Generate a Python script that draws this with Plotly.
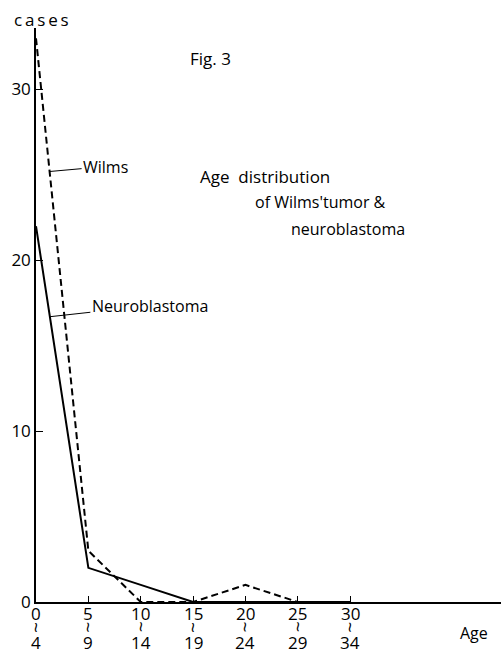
import plotly.graph_objects as go

# ---- data ----
age_start = [0, 5, 10, 15, 20, 25, 30]
age_end = [4, 9, 14, 19, 24, 29, 34]
wilms = [33, 3, 0, 0, 1, 0]
neuroblastoma = [22, 2, 1, 0, 0, 0, 0]
y_ticks = [0, 10, 20, 30]

FONT = "Open Sans"
fig = go.Figure()

fig.add_trace(go.Scatter(
    x=age_start[:len(wilms)], y=wilms, mode="lines", name="Wilms",
    line=dict(color="black", width=2, dash="7px,4px"), cliponaxis=False))
fig.add_trace(go.Scatter(
    x=age_start[:len(neuroblastoma)], y=neuroblastoma, mode="lines",
    name="Neuroblastoma", line=dict(color="black", width=2), cliponaxis=False))

ann = []
# x tick labels: "start / squiggle / end"
for s, e in zip(age_start, age_end):
    ann.append(dict(x=s, y=0, xref="x", yref="paper", text=str(s), showarrow=False,
                    yanchor="middle", yshift=-11, font=dict(size=17, family=FONT, color="black")))
    ann.append(dict(x=s, y=0, xref="x", yref="paper", text="~", showarrow=False, textangle=90,
                    yanchor="middle", yshift=-25, font=dict(size=19, family=FONT, color="black")))
    ann.append(dict(x=s, y=0, xref="x", yref="paper", text=str(e), showarrow=False,
                    yanchor="middle", yshift=-40, font=dict(size=17, family=FONT, color="black")))

# leader-line labels on the curves
tw = 0.26
ann.append(dict(x=age_start[0] + tw * (age_start[1] - age_start[0]),
                y=wilms[0] + tw * (wilms[1] - wilms[0]), xref="x", yref="y",
                text="Wilms", showarrow=True, arrowhead=0, arrowwidth=1, arrowcolor="black",
                ax=56, ay=-5, font=dict(size=16, family=FONT, color="black")))
tn = 0.265
ann.append(dict(x=age_start[0] + tn * (age_start[1] - age_start[0]),
                y=neuroblastoma[0] + tn * (neuroblastoma[1] - neuroblastoma[0]), xref="x", yref="y",
                text="Neuroblastoma", showarrow=True, arrowhead=0, arrowwidth=1, arrowcolor="black",
                ax=100, ay=-11, font=dict(size=16, family=FONT, color="black")))

# free text
def txt(x, y, t, size=15, xa="left"):
    return dict(x=x, y=y, xref="paper", yref="paper", text=t, showarrow=False,
                xanchor=xa, yanchor="middle", font=dict(size=size, family=FONT, color="black"))

ann.append(txt((12 - 36) / 465, (602 - 19) / 574, "c\u2009a\u2009s\u2009e\u2009s", 17))
ann.append(txt((188 - 36) / 465, (602 - 58) / 574, "Fig. 3", 17))
ann.append(txt((198 - 36) / 465, (602 - 176) / 574, "Age  distribution", 17))
ann.append(txt((253 - 36) / 465, (602 - 202) / 574, "of Wilms'tumor &", 16))
ann.append(txt((289 - 36) / 465, (602 - 229) / 574, "neuroblastoma", 16))
ann.append(txt((458 - 36) / 465, (602 - 633) / 574, "Age", 16))

fig.update_layout(
    width=501, height=661,
    margin=dict(l=36, r=0, t=28, b=59),
    paper_bgcolor="white", plot_bgcolor="white",
    showlegend=False,
    annotations=ann,
    xaxis=dict(range=[0, 44.4], showgrid=False, zeroline=False,
               showline=True, linecolor="black", linewidth=1.5,
               tickmode="array", tickvals=age_start[1:], ticktext=[""] * 6,
               ticks="inside", ticklen=6, tickcolor="black", tickwidth=1),
    yaxis=dict(range=[0, 33.6], showgrid=False, zeroline=False,
               showline=True, linecolor="black", linewidth=1.5,
               tickmode="array", tickvals=y_ticks, ticktext=[str(v) for v in y_ticks],
               ticks="inside", ticklen=7, tickcolor="black", tickwidth=1,
               tickfont=dict(size=17, family=FONT, color="black")),
)

fig.write_html("out.html", config={"displayModeBar": False},
               post_script="document.body.style.margin='0';")
